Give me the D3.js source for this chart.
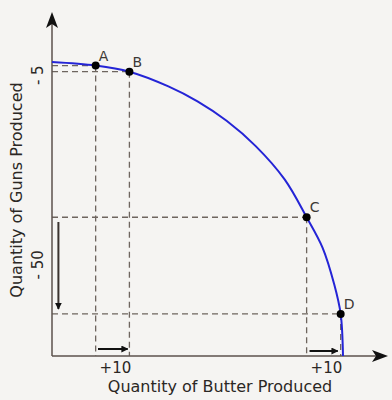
<!DOCTYPE html>
<html>
<head>
<meta charset="utf-8">
<script src="https://cdn.jsdelivr.net/npm/d3@7"></script>
<style>
  html, body { margin: 0; padding: 0; background: #f5f4f2; }
  text { font-family: "DejaVu Sans", sans-serif; fill: #2b2724; }
</style>
</head>
<body>
<svg id="chart"></svg>
<script>
const width = 392, height = 400;

// production possibilities frontier, butter vs guns (share of max)
const butter = [0, 15, 26.6, 40, 50, 60, 70, 80, 87.5, 93, 97, 99.2, 100];
const guns   = [100, 98.8, 96.7, 91.7, 86.6, 80, 71.4, 60, 47.2, 36.8, 24.3, 14.3, 0];

const pointNames  = ["A", "B", "C", "D"];
const pointButter = [15, 26.6, 87.5, 99.2];
const pointGuns   = [98.8, 96.7, 47.2, 14.3];

const gunTicks    = [{label: "- 5", at: 95.5}, {label: "- 50", at: 31}];
const butterTicks = [{label: "+10", at: 21.8}, {label: "+10", at: 94.3}];

const x = d3.scaleLinear().domain([0, 100]).range([52, 343]);
const y = d3.scaleLinear().domain([0, 100]).range([356, 62]);

const svg = d3.select("#chart")
              .attr("width", width)
              .attr("height", height);

const defs = svg.append("defs");
defs.append("marker")
    .attr("id", "head")
    .attr("viewBox", "0 0 10 10")
    .attr("refX", 9).attr("refY", 5)
    .attr("markerWidth", 7).attr("markerHeight", 7)
    .attr("markerUnits", "userSpaceOnUse")
    .attr("orient", "auto")
  .append("path")
    .attr("d", "M0,0 L10,5 L0,10 z")
    .attr("fill", "#111");

// dashed guide lines
const dash = svg.append("g")
                .attr("stroke", "#6e655f")
                .attr("stroke-width", 1.3)
                .attr("stroke-dasharray", "6,4");
pointNames.forEach((name, i) => {
    dash.append("line")
        .attr("x1", x(0)).attr("x2", x(pointButter[i]))
        .attr("y1", y(pointGuns[i])).attr("y2", y(pointGuns[i]));
    dash.append("line")
        .attr("x1", x(pointButter[i])).attr("x2", x(pointButter[i]))
        .attr("y1", y(pointGuns[i])).attr("y2", y(0));
});

// axes
svg.append("line")
   .attr("x1", x(0)).attr("y1", y(0))
   .attr("x2", x(0)).attr("y2", 24)
   .attr("stroke", "#5b524c").attr("stroke-width", 1.5);
svg.append("path")
   .attr("d", `M${x(0)},12 L${x(0) - 6},28 L${x(0)},24 L${x(0) + 6},28 z`)
   .attr("fill", "#111");
svg.append("line")
   .attr("x1", x(0)).attr("y1", y(0))
   .attr("x2", 376).attr("y2", y(0))
   .attr("stroke", "#5b524c").attr("stroke-width", 1.5);
svg.append("path")
   .attr("d", `M388,${y(0)} L372,${y(0) - 6} L376,${y(0)} L372,${y(0) + 6} z`)
   .attr("fill", "#111");

// frontier curve
const line = d3.line()
               .x((d, i) => x(butter[i]))
               .y((d, i) => y(guns[i]))
               .curve(d3.curveCatmullRom);
svg.append("path")
   .datum(butter)
   .attr("d", line)
   .attr("fill", "none")
   .attr("stroke", "#2424d6")
   .attr("stroke-width", 2);

// points
svg.selectAll(".pt")
   .data(pointNames)
   .enter()
   .append("circle")
   .attr("class", "pt")
   .attr("cx", (d, i) => x(pointButter[i]))
   .attr("cy", (d, i) => y(pointGuns[i]))
   .attr("r", 4)
   .attr("fill", "#000");

svg.selectAll(".ptlabel")
   .data(pointNames)
   .enter()
   .append("text")
   .attr("class", "ptlabel")
   .attr("x", (d, i) => x(pointButter[i]) + 3)
   .attr("y", (d, i) => y(pointGuns[i]) - 5)
   .attr("font-size", 14)
   .style("fill", "#3d3835")
   .text(d => d);

// shift arrows
svg.append("line")
   .attr("x1", x(2.2)).attr("x2", x(2.2))
   .attr("y1", 222).attr("y2", 309)
   .attr("stroke", "#3b3430").attr("stroke-width", 2)
   .attr("marker-end", "url(#head)");
svg.append("line")
   .attr("x1", x(15.8)).attr("x2", x(26))
   .attr("y1", 349).attr("y2", 349)
   .attr("stroke", "#111").attr("stroke-width", 2)
   .attr("marker-end", "url(#head)");
svg.append("line")
   .attr("x1", x(88.5)).attr("x2", x(98.2))
   .attr("y1", 351).attr("y2", 351)
   .attr("stroke", "#111").attr("stroke-width", 2)
   .attr("marker-end", "url(#head)");

// tick labels
svg.selectAll(".ytick")
   .data(gunTicks)
   .enter()
   .append("text")
   .attr("class", "ytick")
   .attr("transform", d => `translate(43,${y(d.at)}) rotate(-90)`)
   .attr("text-anchor", "middle")
   .attr("font-size", 15)
   .text(d => d.label);

svg.selectAll(".xtick")
   .data(butterTicks)
   .enter()
   .append("text")
   .attr("class", "xtick")
   .attr("x", d => x(d.at))
   .attr("y", 373)
   .attr("text-anchor", "middle")
   .attr("font-size", 15)
   .text(d => d.label);

// axis titles
svg.append("text")
   .attr("x", 220).attr("y", 392)
   .attr("text-anchor", "middle")
   .attr("font-size", 16)
   .text("Quantity of Butter Produced");
svg.append("text")
   .attr("transform", "translate(22,190) rotate(-90)")
   .attr("text-anchor", "middle")
   .attr("font-size", 16)
   .text("Quantity of Guns Produced");
</script>
</body>
</html>
